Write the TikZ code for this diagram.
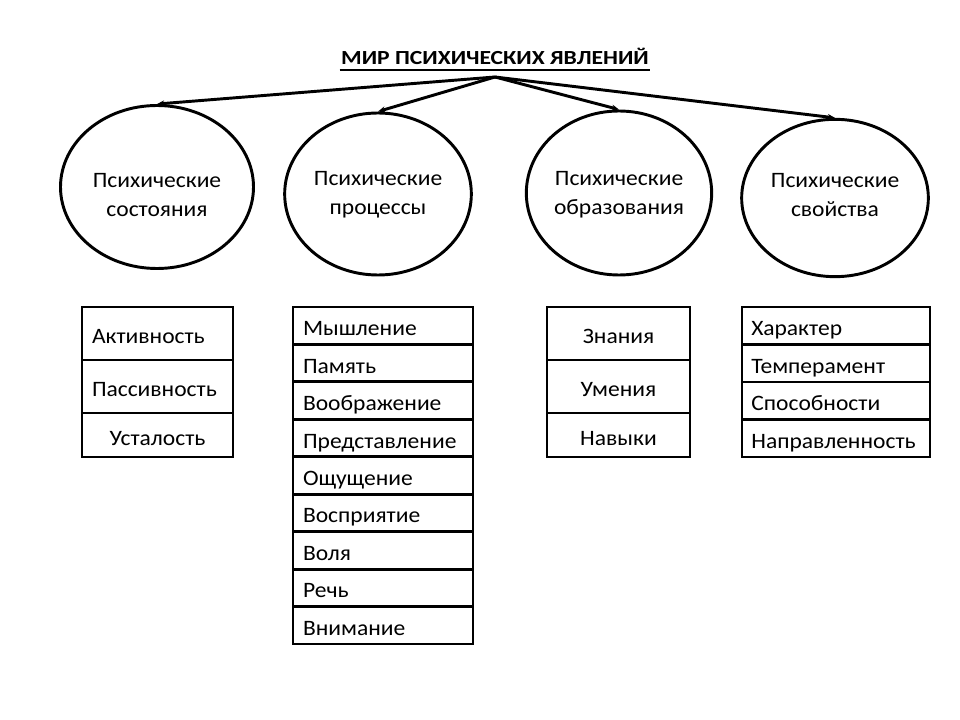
\documentclass[tikz,border=0pt]{standalone}
\usepackage{fontspec}
\setmainfont[FakeStretch=1.07]{Carlito}
\newfontfamily\titlefont[FakeStretch=1.18]{Carlito}
\usetikzlibrary{shapes.geometric,arrows.meta}

\begin{document}
\begin{tikzpicture}[x=0.75pt,y=-0.75pt,line width=2.2pt,>={Stealth[length=5.5pt,width=4.5pt]}]
 \useasboundingbox (0,0) rectangle (960,720);
 \node[font=\titlefont\bfseries\fontsize{15}{18}\selectfont,inner sep=0pt,anchor=base] (title) at (495,65) {МИР ПСИХИЧЕСКИХ ЯВЛЕНИЙ};
 \draw[line width=1.5pt] ([yshift=-4pt]title.base west) -- ([yshift=-4pt]title.base east);
 \coordinate (top) at (495,77);
 \tikzstyle{every node} = [font=\fontsize{16.5}{21.75}\selectfont]
 \tikzstyle{oval} = [ellipse,draw,inner sep=0pt]
 \node[oval,minimum width=144.75pt,minimum height=122.25pt] (st) at (157,187) {};
 \node[oval,minimum width=140pt,minimum height=121.5pt] (pr) at (378,194) {};
 \node[oval,minimum width=139pt,minimum height=123pt] (ob) at (619,193) {};
 \node[oval,minimum width=140pt,minimum height=118pt] (sv) at (835,198) {};
 \node[align=center] (st-t) at (157,195) {Психические\\состояния};
 \node[align=center] (pr-t) at (378,195) {Психические\\процессы};
 \node[align=center] (ob-t) at (619,195) {Психические\\образования};
 \node[align=center] (sv-t) at (835,195) {Психические\\свойства};
 \draw [->] (top) -- (st.north);
 \draw [->] (top) -- (pr.north);
 \draw [->] (top) -- (ob.north);
 \draw [->] (top) -- (sv.north);
 % lists under the ovals
 \tikzstyle{cell} = [draw,rectangle,inner ysep=0pt,align=left,text height=15pt,text depth=0pt]
 \tikzstyle{colA} = [cell,inner xsep=7.5pt,text width=98.25pt,minimum height=39.75pt]
 \tikzstyle{colB} = [cell,inner xsep=7.5pt,text width=120pt,minimum height=28.08pt]
 \tikzstyle{colC} = [cell,align=center,inner xsep=0pt,text width=107.25pt,minimum height=39.75pt]
 \tikzstyle{colD} = [cell,inner xsep=7pt,text width=127pt,minimum height=28.13pt]
 \node[colA] (a1) at (157.5,333.5) {Активность};
 \node[colA] (a2) at (157.5,386.5) {Пассивность};
 \node[colA,align=center,minimum height=33pt] (a3) at (157.5,435) {Усталость};
 \node[colB] (p1) at (383,325.7) {Мышление};
 \node[colB] (p2) at (383,363.2) {Память};
 \node[colB] (p3) at (383,400.6) {Воображение};
 \node[colB] (p4) at (383,438.0) {Представление};
 \node[colB] (p5) at (383,475.5) {Ощущение};
 \node[colB] (p6) at (383,512.9) {Восприятие};
 \node[colB] (p7) at (383,550.4) {Воля};
 \node[colB] (p8) at (383,587.8) {Речь};
 \node[colB] (p9) at (383,625.3) {Внимание};
 \node[colC] (o1) at (618.5,333.5) {Знания};
 \node[colC] (o2) at (618.5,386.5) {Умения};
 \node[colC,minimum height=33pt] (o3) at (618.5,435) {Навыки};
 \node[colD] (s1) at (836,325.75) {Характер};
 \node[colD] (s2) at (836,363.25) {Темперамент};
 \node[colD] (s3) at (836,400.75) {Способности};
 \node[colD] (s4) at (836,438.25) {Направленность};
\end{tikzpicture}
\end{document}
